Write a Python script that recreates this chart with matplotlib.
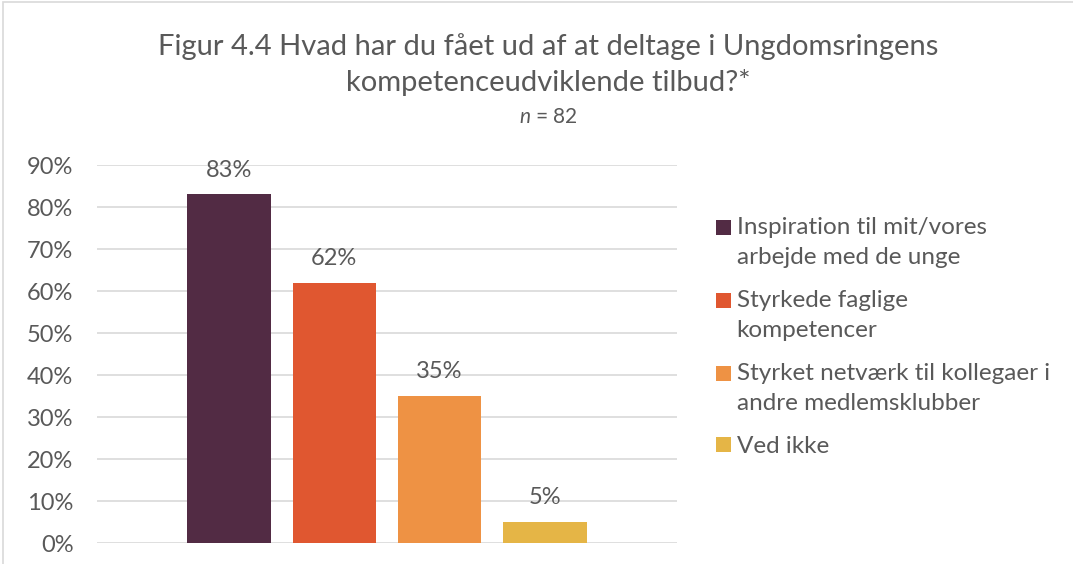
import matplotlib
matplotlib.use("Agg")
import matplotlib.pyplot as plt
from matplotlib.patches import Rectangle
from matplotlib.legend_handler import HandlerPatch

# data
categories = [
    "Inspiration til mit/vores\narbejde med de unge",
    "Styrkede faglige\nkompetencer",
    "Styrket netværk til kollegaer i\nandre medlemsklubber",
    "Ved ikke",
]
values = [0.83, 0.62, 0.35, 0.05]
value_labels = ["83%", "62%", "35%", "5%"]
colors = ["#522B44", "#E05730", "#EE9244", "#E5B546"]
yticks = [0, 0.1, 0.2, 0.3, 0.4, 0.5, 0.6, 0.7, 0.8, 0.9]
ytick_labels = ["0%", "10%", "20%", "30%", "40%", "50%", "60%", "70%", "80%", "90%"]

txt = "#595959"
plt.rcParams["font.family"] = ["Lato", "DejaVu Sans"]
plt.rcParams["mathtext.fontset"] = "custom"
plt.rcParams["mathtext.it"] = "Lato:italic"
plt.rcParams["mathtext.rm"] = "Lato"

fig = plt.figure(figsize=(10.73, 5.64), dpi=100)
ax = fig.add_axes([97 / 1073, 21 / 564, 580 / 1073, 378 / 564])

# chart frame
fig.patches.append(Rectangle((3 / 1073, -0.1), 1.2, (564 - 2) / 564 + 0.1,
                             transform=fig.transFigure, fill=False,
                             edgecolor="#D9D9D9", linewidth=1.2))

x = list(range(len(values)))
bars = ax.bar(x, values, width=0.79, color=colors, label=categories, zorder=3)
for xi, v, lab in zip(x, values, value_labels):
    ax.annotate(lab, (xi, v), xytext=(0, 10), textcoords="offset points",
                ha="center", va="bottom", fontsize=17, color=txt)

ax.set_xlim(-1.254, 4.254)
ax.set_ylim(0, 0.9)
ax.set_yticks(yticks)
ax.set_yticklabels(ytick_labels, fontsize=17, color=txt)
ax.set_xticks([])
ax.tick_params(axis="y", length=0, pad=17)
ax.grid(axis="y", color="#D9D9D9", linewidth=1.2, zorder=0)
for s in ax.spines.values():
    s.set_visible(False)

fig.text(548 / 1073, 1 - 64.5 / 564,
         "Figur 4.4 Hvad har du fået ud af at deltage i Ungdomsringens\nkompetenceudviklende tilbud?*",
         ha="center", va="center", fontsize=21, color=txt, linespacing=1.45)
fig.text(548 / 1073, 1 - 117 / 564, r"$\it{n}$ = 82", ha="center", va="center",
         fontsize=15, color=txt)


# square markers aligned with the first line of each legend entry
def square_at_top(nlines):
    def make(legend, orig_handle, xdescent, ydescent, width, height, fontsize):
        shift = (nlines - 1) * 0.5 * 30 * 72 / 100
        return Rectangle((-xdescent, -ydescent + shift), width, height)
    return make


hmap = {b: HandlerPatch(patch_func=square_at_top(lab.count("\n") + 1))
        for b, lab in zip(bars.patches, categories)}
leg = ax.legend(handles=list(bars.patches), labels=categories, handler_map=hmap,
                loc="upper left", bbox_to_anchor=(716 / 1073, 1 - 217 / 564),
                bbox_transform=fig.transFigure, frameon=False, fontsize=17.5,
                handlelength=0.6, handleheight=0.6, handletextpad=0.25,
                labelspacing=0.9, borderpad=0, borderaxespad=0)
for t in leg.get_texts():
    t.set_color(txt)
    t.set_linespacing(1.54)

fig.savefig("out.png", dpi=100)
